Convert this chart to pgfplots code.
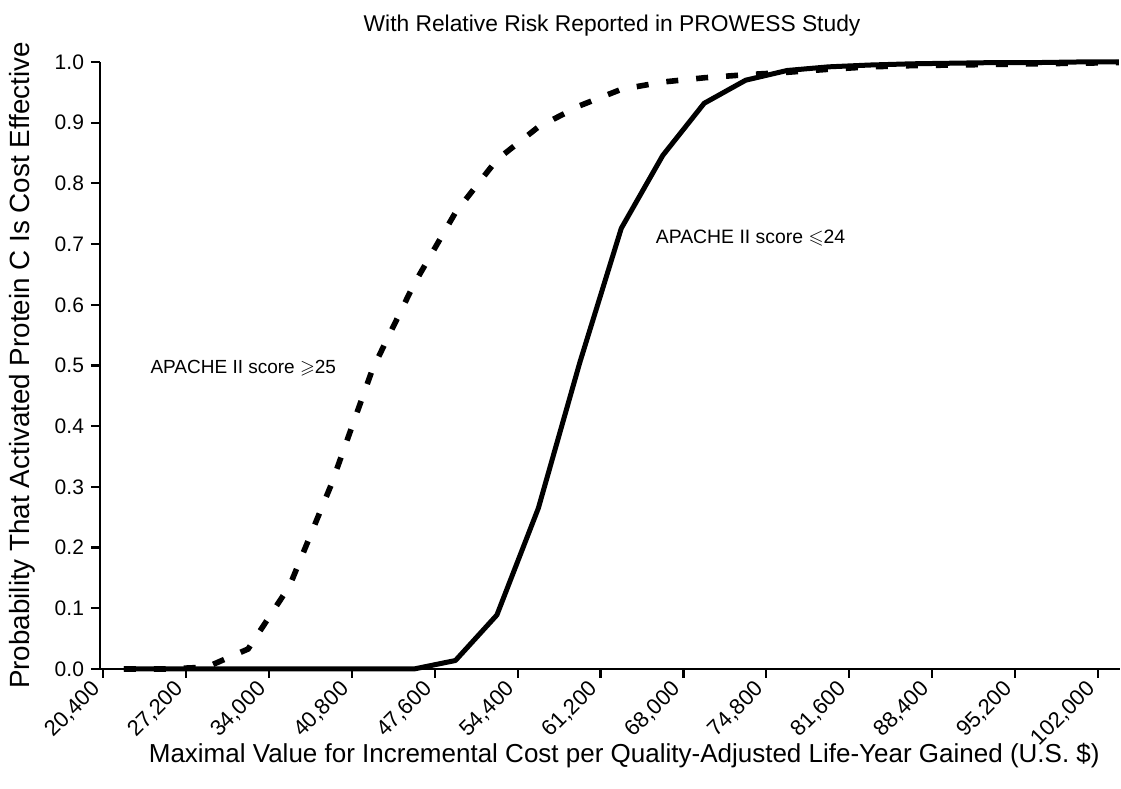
\documentclass[border=0pt]{standalone}
\usepackage{amssymb}
\usepackage{fontspec}
\setmainfont{Liberation Sans}
\usepackage{pgfplots}
\pgfplotsset{compat=1.18}
\begin{document}
\begin{tikzpicture}
\begin{axis}[
  scale only axis,
  width=510pt, height=303.5pt,
  xmin=20150, xmax=103800,
  ymin=0, ymax=1,
  clip=false,
  axis x line*=bottom, axis y line*=left,
  axis line style={line width=1.2pt, -},
  xtick={20400,27200,34000,40800,47600,54400,61200,68000,74800,81600,88400,95200,102000},
  ytick={0,0.1,0.2,0.3,0.4,0.5,0.6,0.7,0.8,0.9,1.0},
  scaled x ticks=false,
  tick align=outside,
  major tick length=4.5pt,
  tick style={line width=1.1pt, black},
  xticklabel style={/pgf/number format/.cd, fixed, 1000 sep={,}, assume math mode=true, /tikz/.cd, rotate=45, anchor=north east, font=\fontsize{11}{12}\selectfont, xshift=-1.5pt, yshift=7.6pt},
  yticklabel style={/pgf/number format/.cd, fixed, fixed zerofill, precision=1, assume math mode=true, /tikz/.cd, font=\fontsize{10.5}{12}\selectfont},
  xlabel={Maximal Value for Incremental Cost per Quality-Adjusted Life-Year Gained (U.S. \$)},
  ylabel={Probability That Activated Protein C Is Cost Effective},
  title={With Relative Risk Reported in PROWESS Study},
  every axis title shift=0pt,
  xlabel style={at={(axis description cs:0.514,0)}, anchor=center, yshift=-43.5pt, font=\fontsize{13}{15}\selectfont},
  ylabel style={at={(axis description cs:-0.0765,0.5)}, anchor=center, font=\fontsize{13.9}{16}\selectfont},
  title style={at={(axis description cs:0.502,1)}, anchor=center, yshift=18pt, font=\fontsize{11.4}{13}\selectfont},
]
\addplot[black, line width=2.5pt, line join=round] coordinates {
(22100,0) (25500,0) (28900,0) (32300,0) (35700,0) (39100,0) (42500,0) (45900,0)
(49300,0.014) (52700,0.089) (56100,0.265) (59500,0.505) (62900,0.726) (66300,0.846)
(69700,0.932) (73100,0.970) (76500,0.986) (79900,0.992) (83300,0.995) (86700,0.997)
(90100,0.998) (93500,0.999) (96900,0.999) (100300,1.0) (103700,1.0)
};
\addplot[black, line width=2.8pt, dash pattern=on 6pt off 9pt] coordinates {
(22100,0) (25500,0) (28900,0.003) (32300,0.033) (35700,0.137) (39100,0.303)
(42500,0.494) (45900,0.634) (49300,0.752) (52700,0.839) (56100,0.893) (59500,0.928)
(62900,0.955) (66300,0.967) (69700,0.974) (73100,0.979) (76500,0.983) (79900,0.988)
(83300,0.992) (86700,0.994) (90100,0.995) (93500,0.996) (96900,0.997) (100300,0.998)
(103700,0.999)
};
\node[anchor=west, font=\fontsize{9.7}{11}\selectfont, inner sep=0pt] at (axis cs:65700,0.71) {APACHE II score $\leqslant$24};
\node[anchor=west, font=\fontsize{9.5}{11}\selectfont, inner sep=0pt] at (axis cs:24260,0.496) {APACHE II score $\geqslant$25};
\end{axis}
\pgfresetboundingbox
\path ([xshift=-50pt,yshift=-60pt]current axis.south west) rectangle ([xshift=0.5pt,yshift=31pt]current axis.north east);
\end{tikzpicture}
\end{document}
